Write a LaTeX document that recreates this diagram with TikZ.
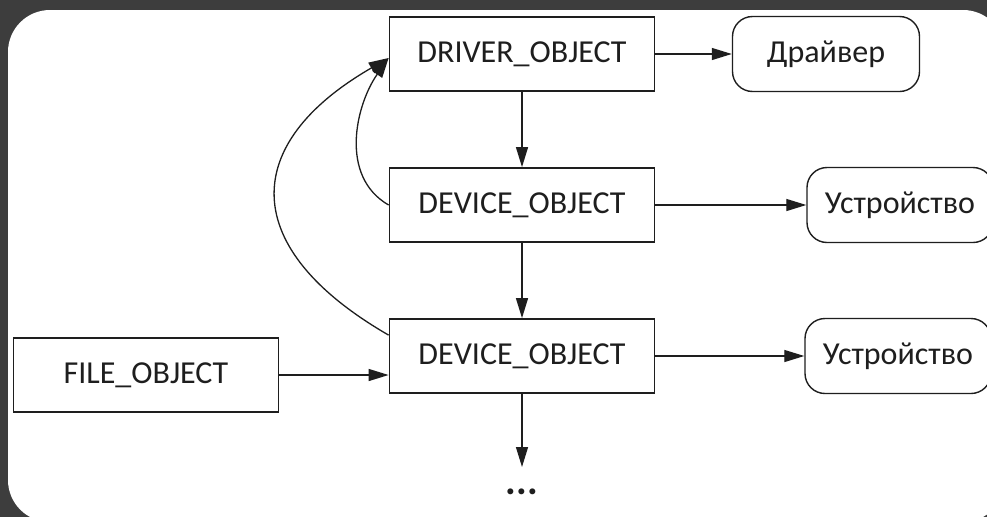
\documentclass[tikz,border=0pt]{standalone}
\usepackage{fontspec}
\setmainfont{Carlito}
\usetikzlibrary{arrows.meta}
\definecolor{frame}{HTML}{3D3D3D}
\definecolor{ink}{HTML}{1E1E1E}
\tikzset{
	obj/.style={draw=ink, line width=1.8pt, minimum width=265pt, minimum height=74pt, inner sep=0pt, font=\fontsize{32}{35}\selectfont, text=ink},
	entity/.style={draw=ink, line width=1.4pt, rounded corners=20pt, minimum height=75pt, inner sep=0pt, font=\fontsize{32}{35}\selectfont, text=ink},
	link/.style={draw=ink, line width=1.3pt, -{Triangle[length=20pt,width=12pt]}}
}
\begin{document}
\begin{tikzpicture}[x=1pt, y=1pt]
	\useasboundingbox (0,0) rectangle (987,-517);
	\fill [frame] (0,0) rectangle (987,-517);
	\begin{scope}
		\clip (0,0) rectangle (987,-517);
		\fill [white, rounded corners=42pt] (8,-10) rectangle (1005,-522);
	\end{scope}
	
	\node [obj] (driver) at (522,-54) {DRIVER\_OBJECT};
	\node [obj] (dev1) at (522,-205) {DEVICE\_OBJECT};
	\node [obj] (dev2) at (522,-356) {DEVICE\_OBJECT};
	\node [obj] (file) at (146,-375) {FILE\_OBJECT};
	\node [entity, minimum width=187pt] (drv) at (826,-54) {Драйвер};
	\node [entity, minimum width=186pt] (unit1) at (900,-205) {Устройство};
	\node [entity, minimum width=186pt] (unit2) at (898,-356) {Устройство};
	\node [font=\fontsize{40}{40}\selectfont\bfseries, text=ink] (more) at (522,-492) {...};
	\coordinate (tail) at (522,-467);
	
	\draw [link] (driver) -- (drv);
	\draw [link] (dev1) -- (unit1);
	\draw [link] (dev2) -- (unit2);
	\draw [link] (driver) -- (dev1);
	\draw [link] (dev1) -- (dev2);
	\draw [link] (dev2.south) -- (tail);
	\draw [link] (file) -- (file -| dev2.west);
	
	\draw [link] (dev1.west) to [out=150, in=-125] ([yshift=-4pt]driver.west);
	\draw [link] ([yshift=-17pt]dev2.north west) to [out=150, in=-150, looseness=1.6] ([yshift=-4pt]driver.west);
\end{tikzpicture}
\end{document}
